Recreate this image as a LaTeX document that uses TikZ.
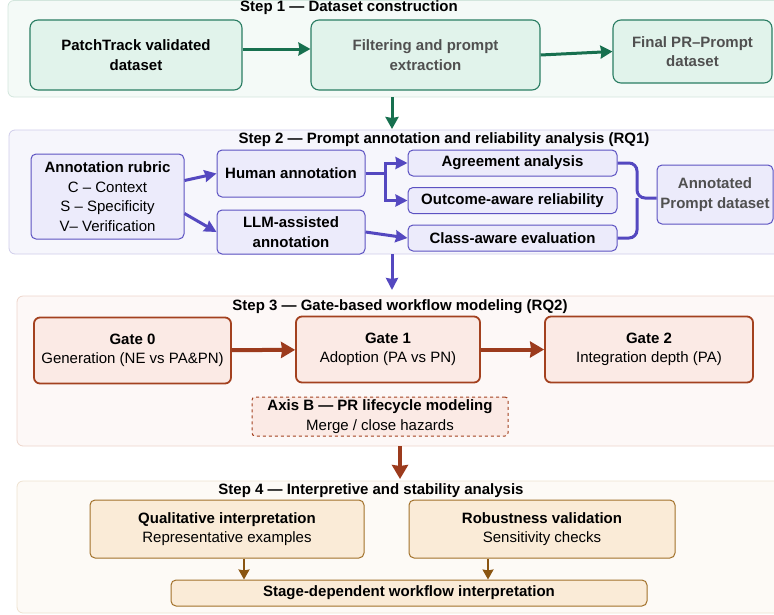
\documentclass[tikz,border=0pt]{standalone}
\usepackage{fontspec}
\setmainfont{Liberation Sans}
\usetikzlibrary{arrows,arrows.meta,shapes}
\definecolor{gpanel}{HTML}{F4FAF7}
\definecolor{gpanelline}{HTML}{D3E6DD}
\definecolor{gfill}{HTML}{E1F3EB}
\definecolor{gline}{HTML}{2A7D63}
\definecolor{garrow}{HTML}{17704F}
\definecolor{ppanel}{HTML}{F6F6FC}
\definecolor{ppanelline}{HTML}{CFCDEA}
\definecolor{pfill}{HTML}{ECEBFB}
\definecolor{pline}{HTML}{5C52C2}
\definecolor{parrow}{HTML}{5448C0}
\definecolor{rpanel}{HTML}{FDF8F7}
\definecolor{rpanelline}{HTML}{EDD5CB}
\definecolor{rfill}{HTML}{FBEAE5}
\definecolor{rline}{HTML}{A3411F}
\definecolor{rarrow}{HTML}{9C3B1D}
\definecolor{bpanel}{HTML}{FDFAF6}
\definecolor{bpanelline}{HTML}{EEE2D0}
\definecolor{bfill}{HTML}{FAEBD7}
\definecolor{bline}{HTML}{A2712A}
\definecolor{barrow}{HTML}{8A5512}
\definecolor{greytext}{HTML}{505050}
\tikzstyle{panel}=[rounded corners=6pt,line width=0.8pt]
\tikzstyle{steptitle}=[inner sep=0pt,font=\fontsize{15}{18}\selectfont\bfseries]
\tikzstyle{box}=[rectangle,align=center,inner sep=0pt,font=\fontsize{15}{19.5}\selectfont]
\tikzstyle{greenbox}=[box,draw=gline,fill=gfill,line width=1.1pt,rounded corners=8pt,font=\fontsize{15}{19.5}\selectfont\bfseries]
\tikzstyle{purplebox}=[box,draw=pline,fill=pfill,line width=1pt,rounded corners=5pt]
\tikzstyle{rustbox}=[box,draw=rline,fill=rfill,line width=1.8pt,rounded corners=6pt]
\tikzstyle{brownbox}=[box,draw=bline,fill=bfill,line width=1pt,rounded corners=5pt]
\tikzstyle{greenedge}=[draw,line width=3pt,color=garrow,-{Stealth[length=12pt,width=13pt,inset=1pt]}]
\tikzstyle{purpleedge}=[draw,line width=3pt,color=parrow,-{Stealth[length=12pt,width=12pt,inset=1pt]}]
\tikzstyle{purplelink}=[draw,line width=3pt,color=parrow,rounded corners=8pt]
\tikzstyle{rustedge}=[draw,line width=4pt,color=rarrow,-{Stealth[length=14pt,width=16pt,inset=1pt]}]
\tikzstyle{brownedge}=[draw,line width=2pt,color=barrow,-{Stealth[length=10pt,width=11pt,inset=1pt]}]
\begin{document}
\begin{tikzpicture}[x=1pt,y=-1pt]
    \useasboundingbox (0,0) rectangle (774,614);
    % The four step panels
    \path[panel,fill=gpanel,draw=gpanelline] (8,0.5) rectangle (800,97);
    \path[panel,fill=ppanel,draw=ppanelline] (9,130) rectangle (800,254);
    \path[panel,fill=rpanel,draw=rpanelline] (17,296) rectangle (800,446);
    \path[panel,fill=bpanel,draw=bpanelline] (17,481) rectangle (800,613);

    % Step 1
    \node[steptitle] (title1) at (349,8) {Step 1 — Dataset construction};
    \node[greenbox,minimum width=212,minimum height=70] (patch) at (136,55) {PatchTrack validated\\dataset};
    \node[greenbox,minimum width=229,minimum height=70,text=greytext] (filter) at (425.5,55) {Filtering and prompt\\extraction};
    \node[greenbox,minimum width=159,minimum height=63,text=greytext] (final) at (692.5,51.5) {Final PR–Prompt\\dataset};
    \path[greenedge] ([yshift=6pt]patch.east) -- ([yshift=6pt]filter.west);
    \path[greenedge] (filter.east) -- (final.west);
    \coordinate (down1a) at (392,97);
    \coordinate (down1b) at (392,129);
    \path[greenedge] (down1a) -- (down1b);

    % Step 2
    \node[steptitle] (title2) at (444,140) {Step 2 — Prompt annotation and reliability analysis (RQ1)};
    \node[purplebox,minimum width=153,minimum height=85] (rubric) at (107.5,196.5) {\textbf{Annotation rubric}\\C – Context\\S – Specificity\\V– Verification};
    \node[purplebox,minimum width=148,minimum height=47,font=\fontsize{15}{19.5}\selectfont\bfseries] (human) at (291,173.5) {Human annotation};
    \node[purplebox,minimum width=148,minimum height=44,font=\fontsize{15}{19.5}\selectfont\bfseries] (llm) at (291,232) {LLM-assisted\\annotation};
    \foreach \pos/\name/\txt in {{(512.5,163)/agree/Agreement analysis}, {(512.5,200.5)/outcome/Outcome-aware reliability}, {(512.5,238)/classaware/Class-aware evaluation}}
        \node[purplebox,minimum width=209,minimum height=26,font=\fontsize{15}{19.5}\selectfont\bfseries] (\name) at \pos {\txt};
    \node[purplebox,minimum width=116,minimum height=59,text=greytext,font=\fontsize{15}{19.5}\selectfont\bfseries] (annot) at (715,194.5) {Annotated\\Prompt dataset};
    \path[purpleedge] ([yshift=16pt]rubric.east) -- (human.west);
    \path[purpleedge] ([yshift=-17pt]rubric.east) -- (llm.west);
    \foreach \dest in {agree, outcome}
        \path[purpleedge] (human.east) -| ([xshift=-22pt]\dest.west) -- (\dest.west);
    \path[purpleedge] (llm.east) -- (classaware.west);
    \coordinate (merge) at (637,198);
    \path[purplelink] (agree.east) -| (merge) -- ([yshift=-3.5pt]annot.west);
    \path[purplelink] (classaware.east) -| (merge);
    \coordinate (down2a) at (392,254);
    \coordinate (down2b) at (392,290);
    \path[purpleedge] (down2a) -- (down2b);

    % Step 3
    \node[steptitle] (title3) at (400,307) {Step 3 — Gate-based workflow modeling (RQ2)};
    \foreach \pos/\name/\w/\txt in {{(132.5,350.5)/gate0/197/{\textbf{Gate 0}\\Generation (NE vs PA\&PN)}}, {(388,349.5)/gate1/184/{\textbf{Gate 1}\\Adoption (PA vs PN)}}, {(649,349.5)/gate2/208/{\textbf{Gate 2}\\Integration depth (PA)}}}
        \node[rustbox,minimum width=\w,minimum height=66] (\name) at \pos {\txt};
    \node[box,draw=rline,fill=rfill,line width=1pt,dashed,rounded corners=3pt,minimum width=256,minimum height=39] (axisb) at (380,416.5) {\textbf{Axis B — PR lifecycle modeling}\\Merge / close hazards};
    \foreach \source/\dest in {gate0/gate1, gate1/gate2}
        \path[rustedge] (\source) -- (\dest);
    \coordinate (down3a) at (400,446);
    \coordinate (down3b) at (400,479);
    \path[rustedge] (down3a) -- (down3b);

    % Step 4
    \node[steptitle] (title4) at (371,491) {Step 4 — Interpretive and stability analysis};
    \node[brownbox,minimum width=274,minimum height=58] (qual) at (227,529) {\textbf{Qualitative interpretation}\\Representative examples};
    \node[brownbox,minimum width=266,minimum height=58] (robust) at (542,529) {\textbf{Robustness validation}\\Sensitivity checks};
    \node[brownbox,minimum width=476,minimum height=26,font=\fontsize{15}{19.5}\selectfont\bfseries] (stage) at (409,593) {Stage-dependent workflow interpretation};
    \coordinate (qualout) at ([xshift=17pt]qual.south);
    \coordinate (robustout) at ([xshift=-54pt]robust.south);
    \foreach \source in {qualout, robustout}
        \path[brownedge] (\source) -- (\source |- stage.north);
\end{tikzpicture}
\end{document}
